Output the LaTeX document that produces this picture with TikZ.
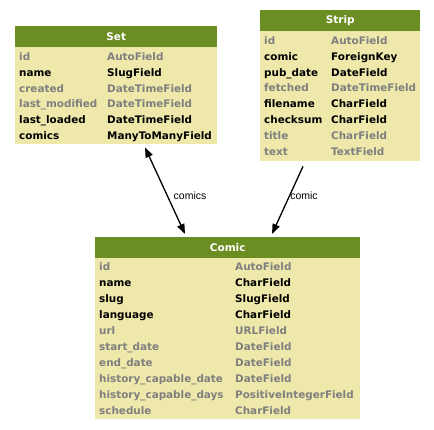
\documentclass[tikz,border=0pt]{standalone}
\usepackage{fontspec}
\setmainfont{DejaVu Sans}
\newfontfamily\lblfont{Liberation Sans}
\usetikzlibrary{arrows.meta,calc}
\definecolor{hdr}{HTML}{6B8E23}
\definecolor{body}{HTML}{EEE8AA}
\definecolor{grayt}{HTML}{7F7F7F}
\tikzset{
  tbl/.style={fill=body,inner sep=0pt,anchor=north west},
  hdrbox/.style={fill=hdr,inner sep=0pt,anchor=north west,minimum height=21pt,
    text=white,font=\fontsize{10.5}{12}\bfseries},
  cell/.style={inner sep=0pt,anchor=mid west,font=\fontsize{10.4}{12}\bfseries},
  rel/.style={line width=1.3pt,-{Triangle[length=10pt,width=7.5pt]}},
  relboth/.style={line width=1.3pt,{Triangle[length=10pt,width=7.5pt]}-{Triangle[length=10pt,width=7.5pt]}},
  lbl/.style={inner sep=1pt,font=\lblfont\fontsize{10.5}{12}\selectfont}
}
\begin{document}
\begin{tikzpicture}[x=1pt,y=-1pt]
\useasboundingbox (0,0) rectangle (434,429);
% Set table
\node[tbl,minimum width=202pt,minimum height=118pt] (set) at (15,26) {};
\node[hdrbox,minimum width=202pt] (set-h) at (15,26) {Set};
\foreach \n/\t/\c [count=\i from 0] in {id/AutoField/grayt,name/SlugField/black,created/DateTimeField/grayt,last\_modified/DateTimeField/grayt,last\_loaded/DateTimeField/black,comics/ManyToManyField/black}{
  \node[cell,text=\c] (set-l\i) at (19,57.5+15.9*\i) {\n};
  \node[cell,text=\c] (set-r\i) at (107,57.5+15.9*\i) {\t};
}
% Strip table
\node[tbl,minimum width=160pt,minimum height=151pt] (strip) at (260,10) {};
\node[hdrbox,minimum width=160pt] (strip-h) at (260,10) {Strip};
\foreach \n/\t/\c [count=\i from 0] in {id/AutoField/grayt,comic/ForeignKey/black,pub\_date/DateField/black,fetched/DateTimeField/grayt,filename/CharField/black,checksum/CharField/black,title/CharField/grayt,text/TextField/grayt}{
  \node[cell,text=\c] (strip-l\i) at (264,41.5+15.9*\i) {\n};
  \node[cell,text=\c] (strip-r\i) at (331,41.5+15.9*\i) {\t};
}
% Comic table
\node[tbl,minimum width=265pt,minimum height=182pt] (comic) at (95,237) {};
\node[hdrbox,minimum width=265pt] (comic-h) at (95,237) {Comic};
\foreach \n/\t/\c [count=\i from 0] in {id/AutoField/grayt,name/CharField/black,slug/SlugField/black,language/CharField/black,url/URLField/grayt,start\_date/DateField/grayt,end\_date/DateField/grayt,history\_capable\_date/DateField/grayt,history\_capable\_days/PositiveIntegerField/grayt,schedule/CharField/grayt}{
  \node[cell,text=\c] (comic-l\i) at (99,267.5+16*\i) {\n};
  \node[cell,text=\c] (comic-r\i) at (235,267.5+16*\i) {\t};
}
% relations
\coordinate (s1) at ($(set.south west)+(130,3)$);
\coordinate (c1) at ($(comic.north west)+(90,-3)$);
\coordinate (s2) at ($(strip.south west)+(43,5)$);
\coordinate (c2) at ($(comic.north west)+(177,-3)$);
\draw[relboth] (s1) -- (c1);
\draw[rel] (s2) -- (c2);
\node[lbl] (lab1) at (190,196) {comics};
\node[lbl] (lab2) at (304,196) {comic};
\end{tikzpicture}
\end{document}
